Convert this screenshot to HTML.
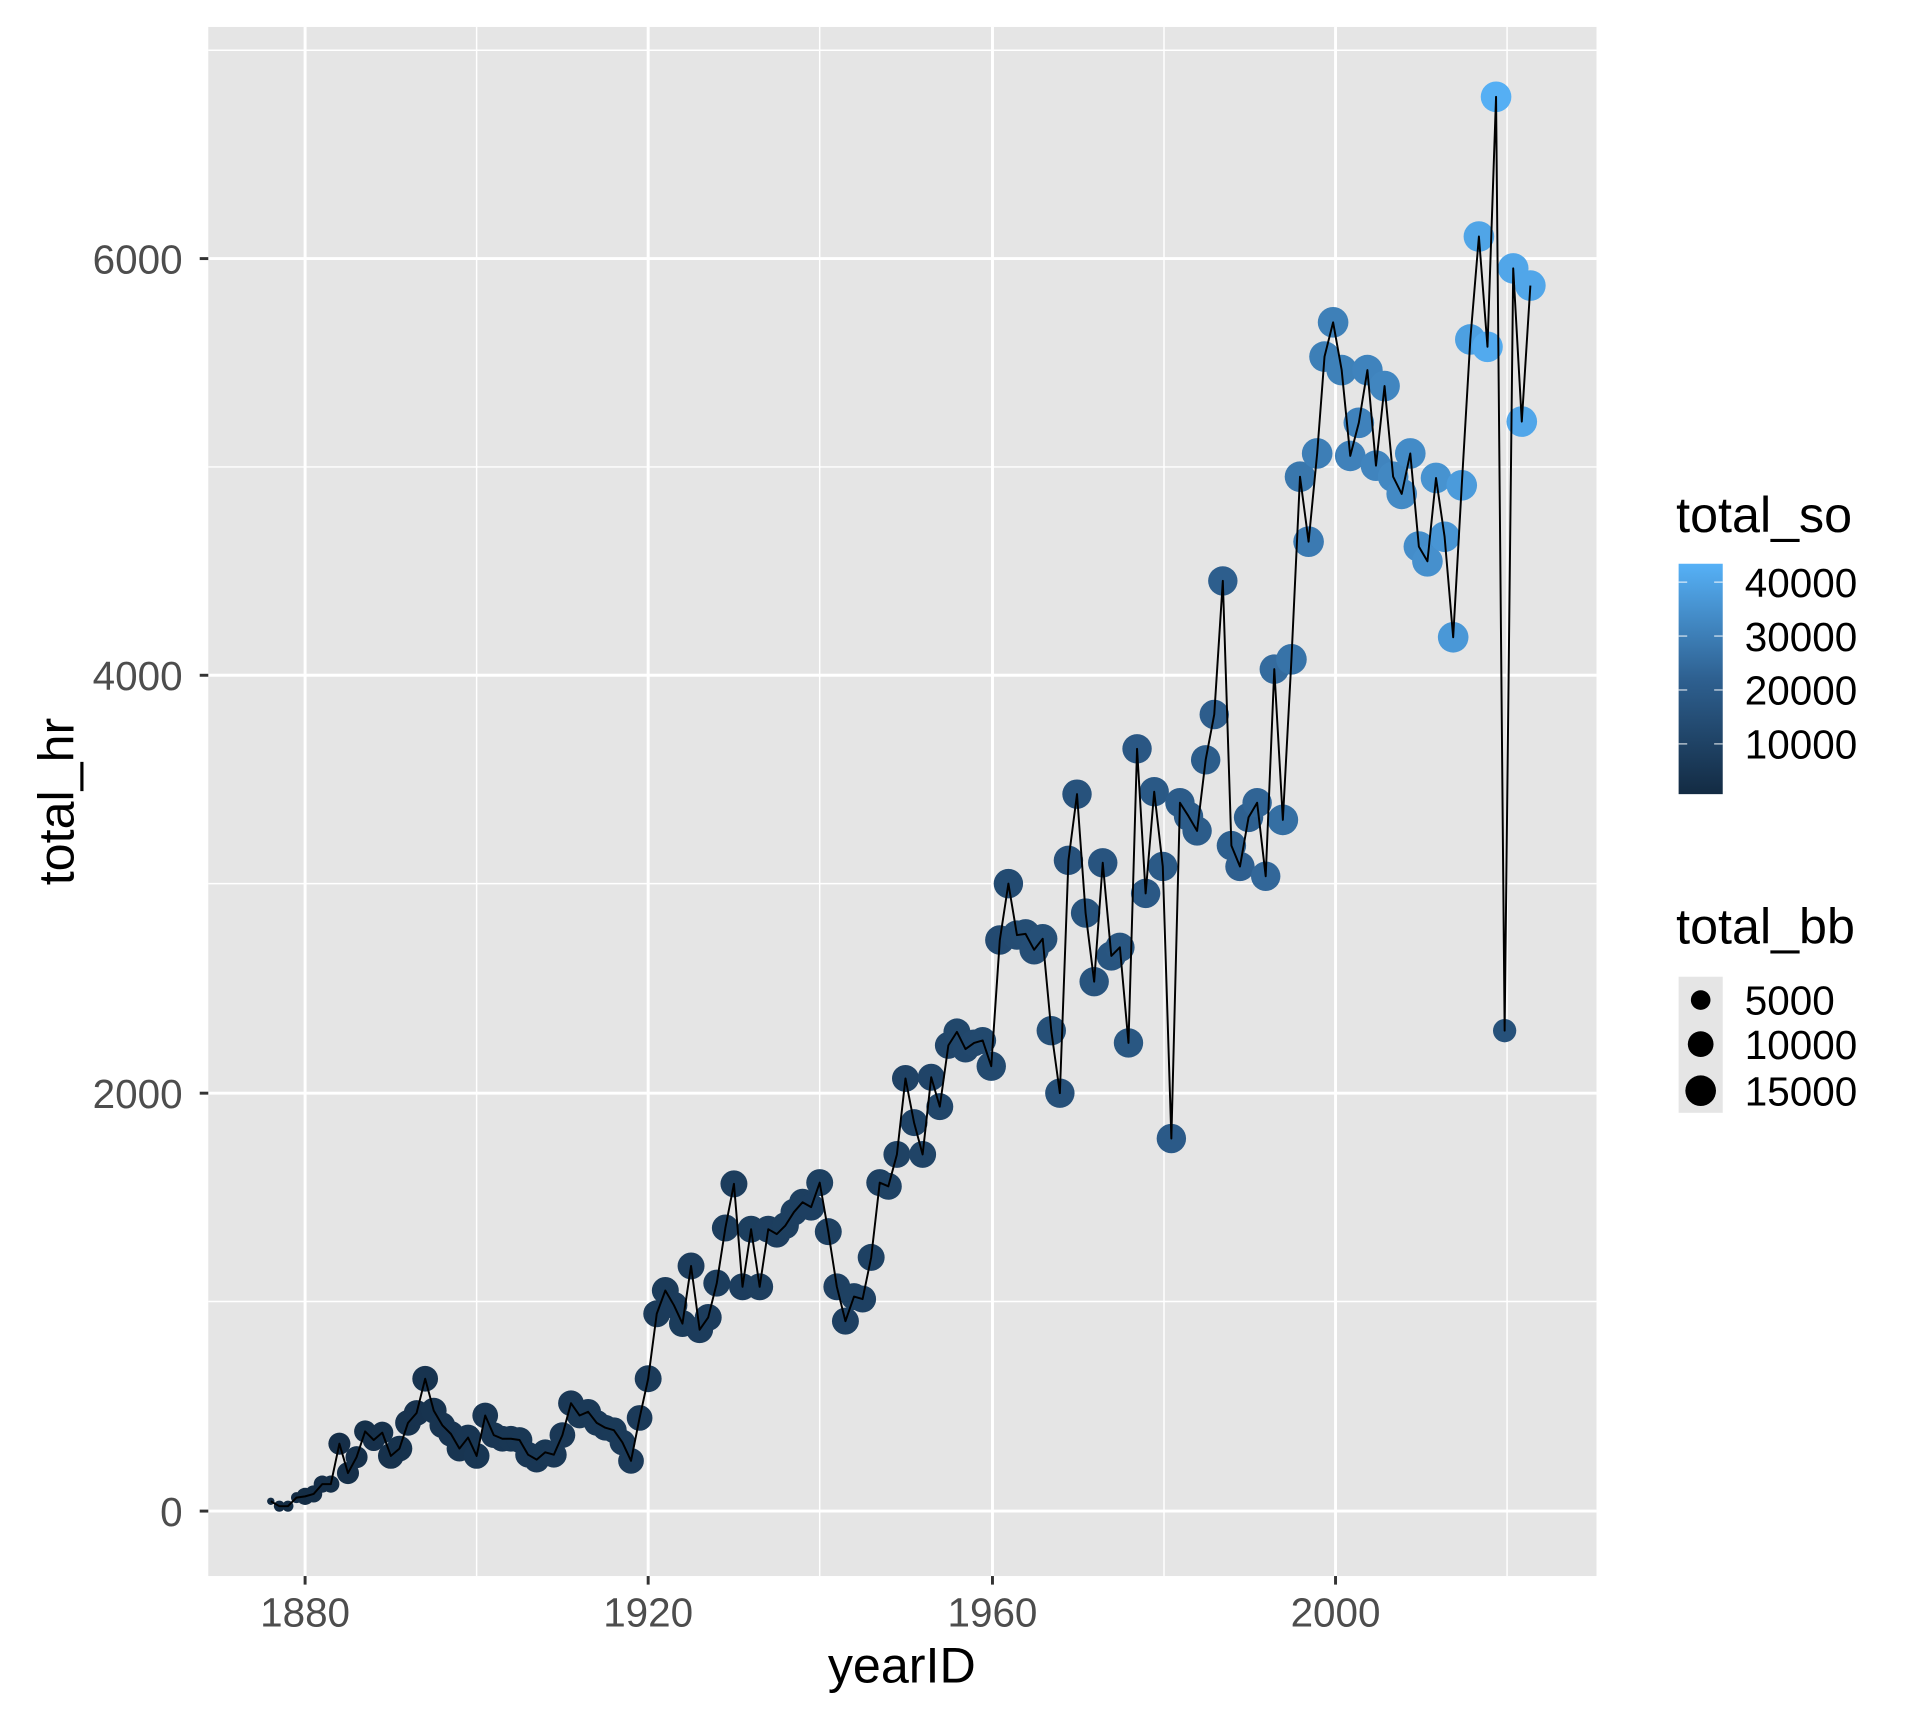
<!DOCTYPE html>
<html><head><meta charset="utf-8"><style>
html,body{margin:0;padding:0;background:#fff;}
svg{display:block;}
text{font-family:"Liberation Sans",Arial,sans-serif;}
</style></head><body>
<svg id="s" width="1920" height="1728" viewBox="0 0 1567 1410" preserveAspectRatio="none" xmlns="http://www.w3.org/2000/svg">
<defs><linearGradient id="cb" x1="0" y1="1" x2="0" y2="0">
<stop offset="0" stop-color="#132B43"/><stop offset="0.5" stop-color="#2e6090"/><stop offset="1" stop-color="#56B1F7"/></linearGradient></defs>
<rect x="170" y="22" width="1133" height="1264" fill="#E5E5E5"/>
<g stroke="#fff" fill="none">
<line x1="170" x2="1303" y1="1062" y2="1062" stroke-width="1.2"/>
<line x1="170" x2="1303" y1="721" y2="721" stroke-width="1.2"/>
<line x1="170" x2="1303" y1="381" y2="381" stroke-width="1.2"/>
<line x1="170" x2="1303" y1="41" y2="41" stroke-width="1.2"/>
<line y1="22" y2="1286" x1="389" x2="389" stroke-width="1.2"/>
<line y1="22" y2="1286" x1="669" x2="669" stroke-width="1.2"/>
<line y1="22" y2="1286" x1="950" x2="950" stroke-width="1.2"/>
<line y1="22" y2="1286" x1="1230" x2="1230" stroke-width="1.2"/>
<line x1="170" x2="1303" y1="1233" y2="1233" stroke-width="2.4"/>
<line x1="170" x2="1303" y1="892" y2="892" stroke-width="2.4"/>
<line x1="170" x2="1303" y1="551" y2="551" stroke-width="2.4"/>
<line x1="170" x2="1303" y1="211" y2="211" stroke-width="2.4"/>
<line y1="22" y2="1286" x1="249" x2="249" stroke-width="2.4"/>
<line y1="22" y2="1286" x1="529" x2="529" stroke-width="2.4"/>
<line y1="22" y2="1286" x1="810" x2="810" stroke-width="2.4"/>
<line y1="22" y2="1286" x1="1090" x2="1090" stroke-width="2.4"/>
</g>
<g id="pts"></g>
<g stroke="#333" stroke-width="2.4">
<line x1="163" x2="170" y1="1233" y2="1233"/><line x1="163" x2="170" y1="892" y2="892"/>
<line x1="163" x2="170" y1="551" y2="551"/><line x1="163" x2="170" y1="211" y2="211"/>
<line x1="249" x2="249" y1="1286" y2="1293"/><line x1="529" x2="529" y1="1286" y2="1293"/>
<line x1="810" x2="810" y1="1286" y2="1293"/><line x1="1090" x2="1090" y1="1286" y2="1293"/>
</g>
<g fill="#4D4D4D" font-size="33" text-anchor="end">
<text x="149" y="1245">0</text><text x="149" y="904">2000</text>
<text x="149" y="563">4000</text><text x="149" y="223">6000</text>
</g>
<g fill="#4D4D4D" font-size="33" text-anchor="middle">
<text x="249" y="1327">1880</text><text x="529" y="1327">1920</text>
<text x="810" y="1327">1960</text><text x="1090" y="1327">2000</text>
</g>
<text x="736" y="1373" font-size="41" text-anchor="middle">yearID</text>
<text transform="translate(60,654) rotate(-90)" font-size="41" text-anchor="middle">total_hr</text>
<text x="1368" y="434" font-size="41">total_so</text>
<rect x="1370" y="460" width="36" height="188" fill="url(#cb)"/>
<g stroke="#fff" stroke-width="1" opacity="0.8">
<line x1="1370" x2="1377" y1="475" y2="475"/><line x1="1399" x2="1406" y1="475" y2="475"/>
<line x1="1370" x2="1377" y1="519" y2="519"/><line x1="1399" x2="1406" y1="519" y2="519"/>
<line x1="1370" x2="1377" y1="563" y2="563"/><line x1="1399" x2="1406" y1="563" y2="563"/>
<line x1="1370" x2="1377" y1="607" y2="607"/><line x1="1399" x2="1406" y1="607" y2="607"/>
</g>
<g font-size="33">
<text x="1424" y="487">40000</text><text x="1424" y="531">30000</text>
<text x="1424" y="575">20000</text><text x="1424" y="619">10000</text>
</g>
<text x="1368" y="770" font-size="41">total_bb</text>
<rect x="1370" y="797" width="36" height="111" fill="#E5E5E5"/>
<circle cx="1388" cy="816" r="8" fill="#000"/>
<circle cx="1388" cy="852" r="10.5" fill="#000"/>
<circle cx="1388" cy="890" r="12.5" fill="#000"/>
<g font-size="33">
<text x="1424" y="828">5000</text><text x="1424" y="864">10000</text><text x="1424" y="902">15000</text>
</g>
</svg>
<script>
var d=[[221,1225],[228,1229],[235,1229],[242,1222],[249,1221],[256,1219],[263,1211],[270,1211],[277,1178],[284,1202],[291,1189],[298,1168],[305,1175],[312,1169],[319,1188],[326,1182],[333,1161],[340,1153],[347,1125],[354,1151],[361,1163],[368,1170],[375,1182],[382,1173],[389,1188],[396,1155],[403,1171],[410,1174],[417,1174],[424,1175],[431,1187],[438,1191],[445,1185],[452,1187],[459,1171],[466,1145],[473,1155],[480,1152],[487,1161],[494,1165],[501,1167],[508,1177],[515,1192],[522,1157],[529,1125],[536,1072],[543,1053],[550,1065],[557,1080],[564,1033],[571,1085],[578,1075],[585,1047],[592,1002],[599,966],[606,1050],[613,1003],[620,1050],[627,1003],[634,1007],[641,1000],[648,989],[655,981],[662,985],[669,965],[676,1005],[683,1050],[690,1078],[697,1058],[704,1060],[711,1026],[718,965],[725,968],[732,942],[739,880],[746,916],[753,942],[760,879],[767,903],[774,853],[781,842],[788,856],[795,851],[802,849],[809,870],[816,767],[823,721],[830,763],[837,762],[844,775],[851,766],[858,841],[865,892],[872,702],[879,648],[886,745],[893,801],[900,704],[907,780],[914,773],[921,851],[928,611],[935,729],[942,646],[949,707],[956,929],[963,655],[970,666],[977,678],[984,620],[991,583],[998,474],[1005,690],[1012,707],[1019,667],[1026,655],[1033,715],[1040,546],[1047,669],[1054,538],[1061,389],[1068,442],[1075,370],[1081,291],[1088,263],[1095,302],[1102,372],[1109,345],[1116,302],[1123,380],[1130,315],[1137,389],[1144,403],[1151,370],[1158,446],[1165,458],[1172,390],[1179,438],[1186,520],[1193,396],[1200,277],[1207,193],[1214,283],[1221,79],[1228,841],[1235,219],[1242,344],[1249,233]];
var sok=[[1876,600],[1900,5000],[1920,7000],[1950,10000],[1960,13000],[1970,16500],[1980,19500],[1990,22000],[1998,30000],[2005,31500],[2010,34000],[2015,37500],[2019,42800]];
function so(y){if(y==2020)return 16000;if(y>2019)return 40500;for(var i=0;i<sok.length-1;i++){if(y<=sok[i+1][0]){var t=(y-sok[i][0])/(sok[i+1][0]-sok[i][0]);return sok[i][1]+t*(sok[i+1][1]-sok[i][1]);}}return 42800;}
function col(v){var t=Math.max(0,Math.min(1,(v-700)/(43400-700)));var a=[19,43,67],m=[46,96,144],b=[86,177,247];var c=[];for(var k=0;k<3;k++){c[k]=t<0.5?a[k]+(m[k]-a[k])*t*2:m[k]+(b[k]-m[k])*(t-0.5)*2;}return "rgb("+c.map(Math.round).join(",")+")";}
function rad(y){if(y==1876)return 3;if(y<1880)return 4.5;if(y<1884)return 7;if(y<1890)return 9;if(y<1920)return 10.5;if(y<1960)return 11;if(y==2020)return 9.5;if(y<1994)return 12;return 12.5;}
var g=document.getElementById("pts"),s="";
for(var i=0;i<d.length;i++){var y=1876+i;s+='<circle cx="'+d[i][0]+'" cy="'+d[i][1]+'" r="'+rad(y)+'" fill="'+col(so(y))+'"/>';}
s+='<polyline fill="none" stroke="#000" stroke-width="1.6" stroke-linejoin="round" points="'+d.map(function(p){return p.join(",");}).join(" ")+'"/>';
g.innerHTML=s;
</script>
</body></html>
